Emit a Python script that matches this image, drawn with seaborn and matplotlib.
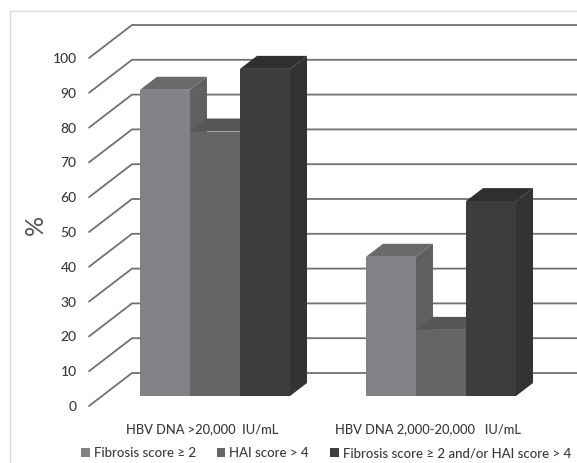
import matplotlib
matplotlib.use('Agg')
import matplotlib.pyplot as plt
import matplotlib.transforms as mtrans
import pandas as pd
import seaborn as sns
from matplotlib.patches import Polygon, Rectangle

sns.set_style("white")
plt.rcParams['font.family'] = ['Lato', 'DejaVu Sans']
plt.rcParams['font.weight'] = 500

# data
categories = ['HBV DNA >20,000  IU/mL', 'HBV DNA 2,000-20,000   IU/mL']
series = ['Fibrosis score ≥ 2', 'HAI score > 4', 'Fibrosis score ≥ 2 and/or HAI score > 4']
fibrosis = [88, 40]
hai = [76, 19]
both = [94, 56]
ticks = [0, 10, 20, 30, 40, 50, 60, 70, 80, 90, 100]

front_colors = ['#818285', '#646567', '#3d3d3f']
side_colors = ['#606062', '#515153', '#333334']
top_colors = ['#69696b', '#565658', '#2f2f30']
line_color = '#707173'
text_color = '#3a3a3a'

df = pd.DataFrame({
    'group': categories * 3,
    'series': [series[0]] * 2 + [series[1]] * 2 + [series[2]] * 2,
    'value': fibrosis + hai + both,
})

W, H = 577, 463
PX_PER_UNIT = 3.48   # pixels for 1 percent
PX_PER_CAT = 226     # pixels between the two groups

fig = plt.figure(figsize=(W / 100, H / 100), dpi=100)

# outer frame of the picture, runs off right and bottom
fig.add_artist(Rectangle((9.5 / W, -0.02), 1.0, 1 - 11 / H + 0.02, transform=fig.transFigure,
                         fill=False, edgecolor='#dcdcdc', linewidth=1.0))

# axes box in pixels
left, right, top, bottom = 89, 577, 12, 406
ax = fig.add_axes([left / W, 1 - bottom / H, (right - left) / W, (bottom - top) / H])
ax.patch.set_alpha(0)

sns.barplot(data=df, x='group', y='value', hue='series', order=categories, hue_order=series,
            palette=front_colors, width=150 / PX_PER_CAT, gap=0, saturation=1, errorbar=None,
            linewidth=0, ax=ax)

# x=0 group centre is at pixel 215, bars stand 10 px above the value-0 tick
base_px = 396
ax.set_xlim((left - 215) / PX_PER_CAT, (right - 215) / PX_PER_CAT)
ax.set_ylim((base_px - bottom) / PX_PER_UNIT, (base_px - top) / PX_PER_UNIT)

tick_shift = (base_px - bottom) / PX_PER_UNIT
wall_dx = 43 / PX_PER_CAT
wall_dy = 33 / PX_PER_UNIT
x0 = ax.get_xlim()[0]
x1 = ax.get_xlim()[1]

# floor/wall lines
for t in ticks:
    y = t + tick_shift
    ax.plot([x0, x0 + wall_dx, x1], [y, y + wall_dy, y + wall_dy], color=line_color,
            linewidth=1.3, zorder=1, clip_on=False, solid_joinstyle='miter')

# 3D sides and tops on each bar
bar_dx = 17 / PX_PER_CAT
bar_dy = 13 / PX_PER_UNIT
for container, side, top_c in zip(ax.containers, side_colors, top_colors):
    for p in container:
        bx0 = p.get_x()
        bx1 = bx0 + p.get_width()
        h = p.get_height()
        # order: side and top first, then the front, next series covers them
        order = round((bx0 - x0) * 1000)
        ax.add_patch(Polygon([(bx1, 0), (bx1 + bar_dx, bar_dy), (bx1 + bar_dx, h + bar_dy), (bx1, h)],
                             closed=True, facecolor=side, edgecolor='none', zorder=2 + order / 1e4))
        ax.add_patch(Polygon([(bx0, h), (bx0 + bar_dx, h + bar_dy), (bx1 + bar_dx, h + bar_dy), (bx1, h)],
                             closed=True, facecolor=top_c, edgecolor='none', zorder=2 + order / 1e4))
        p.set_zorder(2 + (order + 1) / 1e4)

ax.set_yticks([t + tick_shift for t in ticks])
ax.set_yticklabels(ticks)
ax.tick_params(axis='y', length=0, pad=9, labelsize=10, labelcolor=text_color)
ax.tick_params(axis='x', length=0, pad=12, labelsize=9.3, labelcolor=text_color)
# x labels sit a bit left of the group centres
shift = mtrans.ScaledTranslation(-13 / 100, 0, fig.dpi_scale_trans)
for lab in ax.get_xticklabels():
    lab.set_transform(lab.get_transform() + shift)
ax.set_xlabel('')
ax.set_ylabel('%', fontsize=18, color='#555555')
ax.yaxis.set_label_coords((47 - left) / (right - left), (bottom - 225) / (bottom - top))
sns.despine(ax=ax, left=True, bottom=True, top=True, right=True)

handles, labels = ax.get_legend_handles_labels()
ax.legend(handles, labels, frameon=False, ncol=3, loc='center', fontsize=9.5,
          bbox_to_anchor=(326 / W, 1 - 453 / H), bbox_transform=fig.transFigure,
          handlelength=0.65, handleheight=0.65, handletextpad=0.3, columnspacing=1.6,
          labelcolor=text_color, borderpad=0)

plt.savefig('out.png', dpi=100)
plt.close()
